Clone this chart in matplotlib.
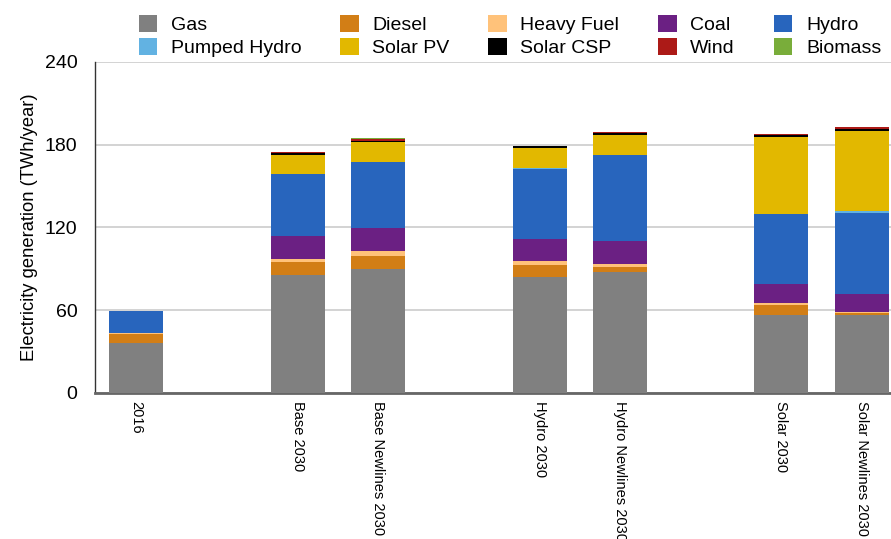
import matplotlib
matplotlib.use("Agg")
import matplotlib.pyplot as plt
import numpy as np

plt.rcParams['font.family'] = ['Liberation Sans', 'DejaVu Sans']

categories = ["2016", "Base 2030", "Base Newlines 2030", "Hydro 2030",
              "Hydro Newlines 2030", "Solar 2030", "Solar Newlines 2030"]
positions = [0, 2, 3, 5, 6, 8, 9]

series_names = ["Gas", "Diesel", "Heavy Fuel", "Coal", "Hydro",
                "Pumped Hydro", "Solar PV", "Solar CSP", "Wind", "Biomass"]

gas          = [36.3, 85.6, 89.9, 84.1, 87.7, 56.6, 56.6]
diesel       = [6.2, 9.4, 9.4, 8.7, 3.7, 7.2, 1.4]
heavy_fuel   = [0.8, 2.2, 3.7, 2.9, 2.1, 1.5, 0.4]
coal         = [0.0, 16.6, 16.6, 16.0, 16.7, 13.7, 13.4]
hydro        = [16.2, 45.0, 47.9, 50.7, 62.4, 50.8, 58.7]
pumped_hydro = [0.0, 0.0, 0.0, 0.8, 0.0, 0.0, 1.5]
solar_pv     = [0.0, 13.8, 14.5, 14.5, 14.4, 55.8, 58.0]
solar_csp    = [0.0, 1.2, 0.7, 1.4, 1.3, 1.5, 1.4]
wind         = [0.0, 1.0, 1.5, 0.0, 1.0, 0.7, 1.5]
biomass      = [0.0, 0.0, 0.7, 0.0, 0.0, 0.0, 0.0]

data = [gas, diesel, heavy_fuel, coal, hydro, pumped_hydro,
        solar_pv, solar_csp, wind, biomass]
colors = ["#808080", "#D27E16", "#FFC27A", "#6B2083", "#2865BD",
          "#62B2E2", "#E2B800", "#000000", "#AC1A17", "#79AD3A"]

fig = plt.figure(figsize=(8.91, 5.39), dpi=100)
ax = fig.add_axes([0.107, 0.271, 0.893, 0.614])

bottom = np.zeros(len(categories))
handles = []
for name, vals, c in zip(series_names, data, colors):
    v = np.array(vals)
    h = ax.bar(positions, v, width=0.67, bottom=bottom, color=c,
               label=name, linewidth=0, zorder=3)
    handles.append(h)
    bottom += v

ax.set_ylim(0, 240)
ax.set_yticks([0, 60, 120, 180, 240])
ax.set_xlim(-0.51, 9.36)
ax.set_xticks(positions)
ax.set_xticklabels(categories, rotation=270, fontsize=10.5, va='top', ha='center')
ax.tick_params(axis='x', length=0, pad=6)
ax.tick_params(axis='y', length=0, labelsize=14, pad=13)
ax.set_ylabel("Electricity generation (TWh/year)", fontsize=13.2, labelpad=5)

ax.grid(axis='y', color='#CCCCCC', linewidth=1.2, zorder=0)
for s in ['top', 'right']:
    ax.spines[s].set_visible(False)
ax.spines['left'].set_color('#333333')
ax.spines['left'].set_linewidth(1.0)
ax.spines['bottom'].set_color('#666666')
ax.spines['bottom'].set_linewidth(2.0)

order = [0, 5, 1, 6, 2, 7, 3, 8, 4, 9]
fig.legend([handles[i] for i in order], [series_names[i] for i in order],
           ncol=5, loc='upper left', bbox_to_anchor=(0.137, 1.003),
           frameon=False, fontsize=14, handlelength=0.95, handleheight=0.95,
           columnspacing=2.0, handletextpad=0.7, labelspacing=0.2,
           borderaxespad=0.45)

fig.savefig("out.png", dpi=100)
